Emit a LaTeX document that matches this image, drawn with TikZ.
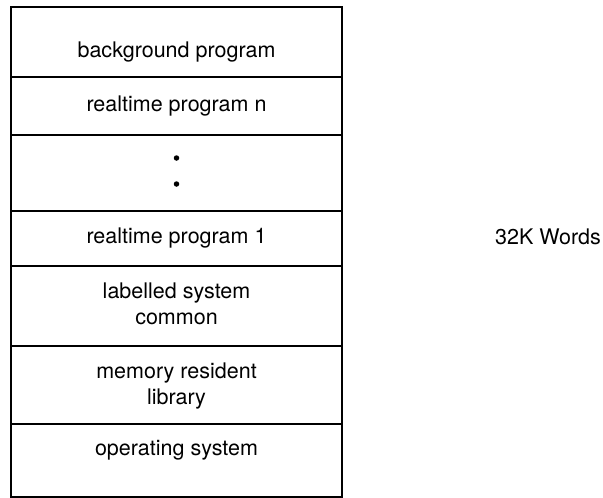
\documentclass[tikz,border=0pt]{standalone}
\usepackage{fontspec}
\setmainfont{TeX Gyre Heros}
\usetikzlibrary{positioning}

\begin{document}
\begin{tikzpicture}[x=1pt,y=-1pt]

\tikzset{layer/.style = {shape=rectangle,draw,line width=2.2pt,minimum width=331pt,inner sep=0pt}}
\tikzset{txt/.style = {align=center,inner sep=0pt,font=\fontsize{21.5}{25.5}\selectfont}}
\tikzset{dot/.style = {shape=circle,fill,minimum size=5.5pt,inner sep=0pt}}
\useasboundingbox (0,0) rectangle (603,498);
% layers
\node[layer, minimum height=70pt] (bg) at (176.5,42) {};
\node[layer, minimum height=58pt] (rtn) at (176.5,106) {};
\node[layer, minimum height=76pt] (gap) at (176.5,173) {};
\node[layer, minimum height=55pt] (rt1) at (176.5,238.5) {};
\node[layer, minimum height=80pt] (lsc) at (176.5,306) {};
\node[layer, minimum height=78pt] (mrl) at (176.5,385) {};
\node[layer, minimum height=73pt] (os) at (176.5,460.5) {};
% labels
\node[txt] (bgtext) at (176.5,52) {background program};
\node[txt] (rtntext) at (176.5,106) {realtime program n};
\node[dot] (dot1) at (176.5,158) {};
\node[dot] (dot2) at (176.5,184) {};
\node[txt] (rt1text) at (176.5,238) {realtime program 1};
\node[txt] (lsctext) at (176.5,304) {labelled system\\common};
\node[txt] (mrltext) at (176.5,386) {memory resident\\library};
\node[txt] (ostext) at (176.5,450) {operating system};
\node[txt] (words) at (548,237) {32K Words};
\end{tikzpicture}
\end{document}
